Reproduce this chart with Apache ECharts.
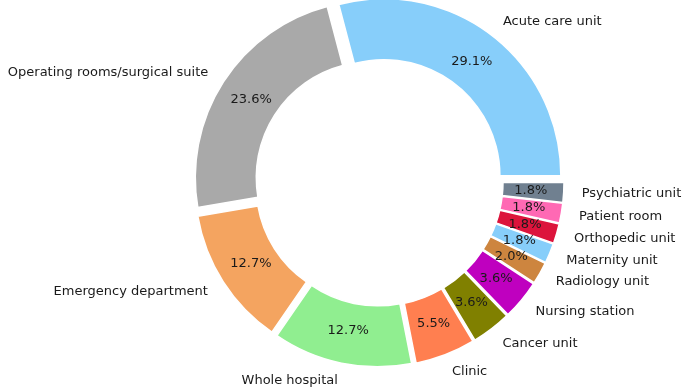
<!DOCTYPE html>
<html>
<head>
<meta charset="utf-8">
<script src="https://cdn.jsdelivr.net/npm/echarts@6/dist/echarts.min.js"></script>
<style>
  html, body { margin: 0; padding: 0; background: #fff; }
</style>
</head>
<body>
<div id="chart" style="width: 685px;height: 389px;"></div>
<script>
// locations, counter-clockwise from 3 o'clock
const categories = ['Acute care unit', 'Operating rooms/surgical suite', 'Emergency department', 'Whole hospital',
    'Clinic', 'Cancer unit', 'Nursing station', 'Radiology unit', 'Maternity unit', 'Orthopedic unit',
    'Patient room', 'Psychiatric unit']
const shares = [29.1, 23.6, 12.7, 12.7, 5.5, 3.6, 3.6, 2.0, 1.8, 1.8, 1.8, 1.8]
const palette = ['#87CEFA', '#A9A9A9', '#F4A460', '#90EE90', '#FF7F50', '#808000', '#BF00BF', '#CD853F',
    '#87CEFA', '#DC143C', '#FF69B4', '#708090']

const center = [379, 182]
const font = 'DejaVu Sans'
const clear = 'rgba(0,0,0,0)'

const myChart = echarts.init(document.getElementById('chart'))

const makeData = (transparent) => categories.map((name, i) => ({
    name,
    value: shares[i],
    selected: true,
    itemStyle: {
        color: transparent ? clear : palette[i],
        borderColor: transparent ? clear : '#fff',
        borderWidth: transparent ? 0 : 1.5,
    },
}))

// common pie settings, every wedge pulled out a little (like explode)
const base = {
    type: 'pie',
    center,
    clockwise: false,
    startAngle: 0,
    selectedMode: 'multiple',
    selectedOffset: 8,
    avoidLabelOverlap: false,
    silent: true,
    labelLine: { show: false },
}

const option = {
    backgroundColor: '#fff',
    animation: false,
    series: [
        {
            // the ring itself
            ...base,
            radius: [116, 177],
            label: { show: false },
            select: { itemStyle: { borderColor: '#fff', borderWidth: 1.5 }, label: { show: false } },
            data: makeData(false),
        },
        {
            // percentages, a bit inside the ring middle
            ...base,
            radius: [105, 177],
            label: {
                show: true,
                position: 'inside',
                color: '#1a1a1a',
                fontFamily: font,
                fontSize: 13,
                formatter: (p) => p.value.toFixed(1) + '%',
            },
            select: { itemStyle: { color: clear, borderWidth: 0 } },
            data: makeData(true),
        },
        {
            // names outside
            ...base,
            radius: [116, 177],
            label: {
                show: true,
                position: 'outside',
                color: '#1a1a1a',
                fontFamily: font,
                fontSize: 13,
                distanceToLabelLine: 0,
                formatter: '{b}',
            },
            labelLine: { show: false, length: 18, length2: 0 },
            select: { itemStyle: { color: clear, borderWidth: 0 } },
            data: makeData(true),
        },
    ],
}
option && myChart.setOption(option)
</script>
</body>
</html>
